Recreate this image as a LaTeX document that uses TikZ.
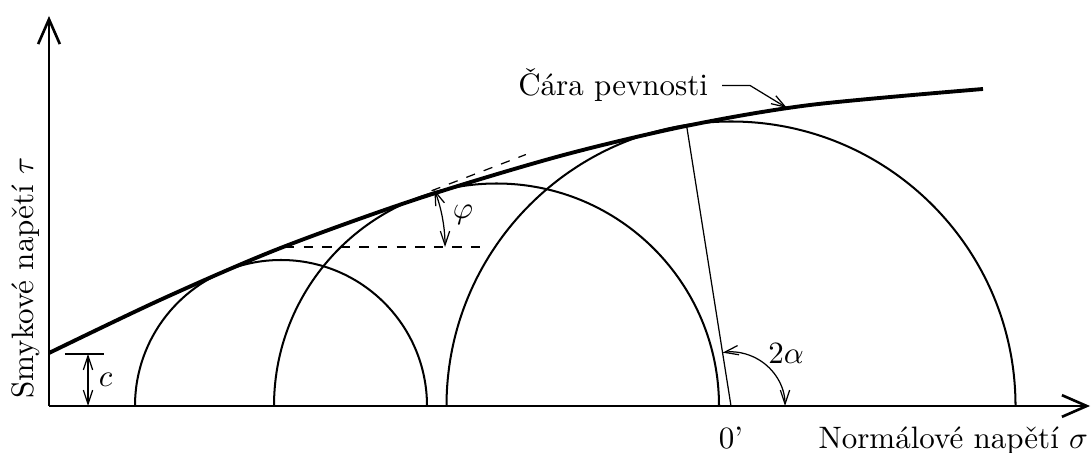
\documentclass[tikz,border=0pt]{standalone}
\usetikzlibrary{arrows.meta}

\newcommand*{\xmin}{-49}
\newcommand*{\xmax}{1041}
\newcommand*{\ymin}{-47}
\newcommand*{\ymax}{390}

\begin{document}
\begin{tikzpicture}
[
	x=0.3226pt,
	y=0.3226pt,
	axis/.style={line width=0.85pt,-{Straight Barb[length=8pt,width=7pt]}},
	circ/.style={line width=0.65pt},
	envelope/.style={line width=1.25pt},
	guide/.style={line width=0.4pt,dashed},
	dimarrow/.style={line width=0.4pt,{Straight Barb[length=4.5pt,width=3pt]}-{Straight Barb[length=4.5pt,width=3pt]}},
	labelarrow/.style={line width=0.4pt,-{Straight Barb[length=4.5pt,width=3pt]}}
]

	\useasboundingbox (\xmin,\ymin) rectangle (1043,406);

	% axes
	\coordinate (O) at (0,0);
	\draw[axis] (O) -- (\xmax,0) coordinate (xend);
	\draw[axis] (O) -- (0,\ymax) coordinate (yend);
	\node[anchor=base east] (sigma) at (1050,-42) {Normálové napětí $\sigma$};
	\node[anchor=base,rotate=90] (tau) at (-16,128) {Smykové napětí $\tau$};

	% Mohr circles
	\foreach \cx/\r in {232/146, 447.5/222.5, 682/284.5}
		\draw[circ] (\cx+\r,0) arc[start angle=0,end angle=180,radius=\r];

	% envelope
	\draw[envelope] plot[smooth] coordinates {(0,53) (111,106) (229,157) (368,207) (511,250) (637,280) (761,301) (934,317)};
	\node[anchor=base east] (envlabel) at (670,310) {Čára pevnosti};
	\coordinate (envtip) at (738,298);
	\draw[labelarrow] ([xshift=1pt]envlabel.east) -- ++(28,0) -- (envtip);

	% cohesion
	\coordinate (ctop) at (39,52);
	\coordinate (cbot) at (39,0);
	\draw[line width=0.4pt] (16,52) -- (55,52);
	\draw[dimarrow] (ctop) -- (cbot) node[midway,right] (c) {$c$};

	% friction angle
	\coordinate (V) at (236,159);
	\draw[guide] (V) -- (431,159);
	\draw[guide] (V) ++(21:157) -- ++(21:101);
	\draw[dimarrow] (V) ++(21:160) arc[start angle=21,end angle=0,radius=160];
	\node (phi) at (414,191) {$\varphi$};

	% angle 2 alpha
	\coordinate (M) at (682,0);
	\draw[line width=0.4pt] (M) -- ++(99:284.5) coordinate (T);
	\draw[dimarrow] (M) ++(0:54) arc[start angle=0,end angle=99,radius=54];
	\node (alpha) at (737,52) {$2\alpha$};
	\node[anchor=base] (zero) at (682,-42) {0'};

\end{tikzpicture}
\end{document}
